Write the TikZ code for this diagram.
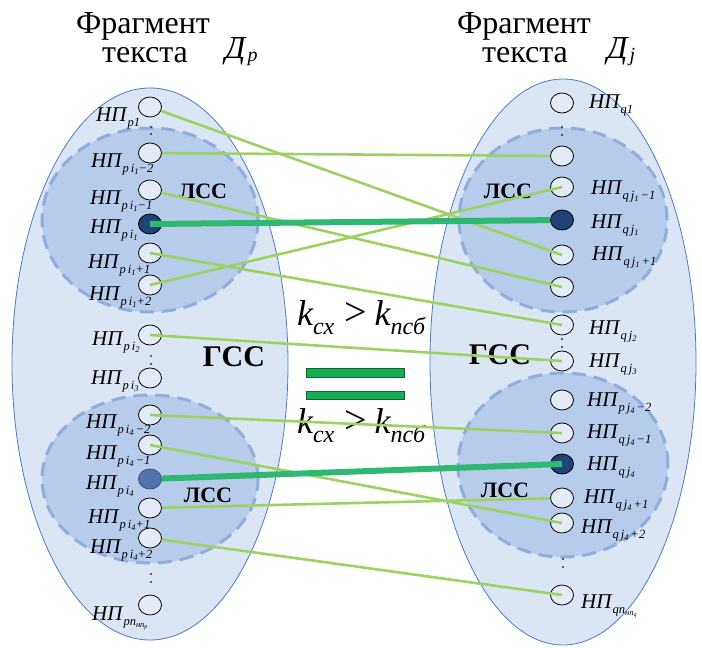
\documentclass[tikz,border=0pt]{standalone}
\usepackage{fontspec}
\setmainfont{Liberation Serif}
\usetikzlibrary{shapes.geometric}

\definecolor{bigfill}{HTML}{DCE5F3}
\definecolor{bigline}{HTML}{4A7CCB}
\definecolor{lssfill}{HTML}{B7CBEA}
\definecolor{lssline}{HTML}{8DAEDF}
\definecolor{nodefill}{HTML}{E4EBF6}
\definecolor{darknode}{HTML}{1F4279}
\definecolor{midnode}{HTML}{5374AB}
\definecolor{linkthin}{HTML}{9BD363}
\definecolor{linkthick}{HTML}{2FB872}
\definecolor{barfill}{HTML}{10B050}
\definecolor{barline}{HTML}{1E5A38}

% label "НП" with a lowered subscript
\newcommand\NP[1]{{\fontsize{21}{21}\selectfont\itshape НП}\hspace{1pt}\raisebox{-5pt}{\fontsize{12.5}{12.5}\selectfont\itshape #1}}
\newcommand\sbx[1]{\raisebox{-2pt}{\fontsize{8.5}{8.5}\selectfont #1}}
% k_сх > k_псб
\newcommand\kk{{\fontsize{36}{36}\selectfont\itshape k}\raisebox{-9pt}{\fontsize{24}{24}\selectfont\itshape сх}\hspace{10pt}{\fontsize{40}{40}\selectfont >}\hspace{8pt}{\fontsize{36}{36}\selectfont\itshape k}\raisebox{-9pt}{\fontsize{24}{24}\selectfont\itshape псб}}

\tikzset{
  text field/.style={draw=bigline, line width=0.8pt, fill=bigfill},
  lss/.style={draw=lssline, fill=lssfill, line width=3pt, dash pattern=on 14pt off 8pt},
  np/.style={ellipse, draw=black, line width=0.8pt, fill=nodefill, minimum width=23pt, minimum height=20pt, inner sep=0pt},
  npdark/.style={np, fill=darknode},
  npmid/.style={np, fill=midnode, draw=midnode!70!black},
  lab/.style={anchor=base west, inner sep=0pt},
  title/.style={anchor=base, inner sep=0pt, font=\fontsize{32}{32}\selectfont},
  lssname/.style={inner sep=0pt, font=\fontsize{22}{22}\selectfont\bfseries},
  gssname/.style={inner sep=0pt, font=\fontsize{30}{30}\selectfont\bfseries},
  thinlink/.style={draw=linkthin, line width=2.6pt},
  thicklink/.style={draw=linkthick, line width=6pt},
  vdot/.style={circle, fill=black!80, inner sep=0pt, minimum size=2.4pt},
  eqbar/.style={draw=barline, fill=barfill, line width=0.7pt}
}

\begin{document}
\begin{tikzpicture}[x=1pt, y=-1pt]
\useasboundingbox (0,0) rectangle (702,648);

% two text fragments
\draw[text field] (150,364) ellipse [x radius=138pt, y radius=276pt];
\draw[text field] (563,362) ellipse [x radius=133pt, y radius=283pt];

% local semantic structures
\draw[lss] (150,220) ellipse [x radius=108pt, y radius=92pt];
\draw[lss] (150,479) ellipse [x radius=108pt, y radius=84pt];
\draw[lss] (563,220) ellipse [x radius=104pt, y radius=92pt];
\draw[lss] (563,465) ellipse [x radius=105pt, y radius=92pt];

% headings
\node[title] (tl1) at (143,33) {Фрагмент};
\node[title] (tl2) at (145,62) {текста};
\node[title] (tr1) at (524,33) {Фрагмент};
\node[title] (tr2) at (525,62) {текста};
\node[anchor=base west, inner sep=0pt] (dp) at (225,58) {{\fontsize{32}{32}\selectfont\itshape Д}\hspace{2pt}\raisebox{-3pt}{\fontsize{20}{20}\selectfont\itshape p}};
\node[anchor=base west, inner sep=0pt] (dj) at (607,58) {{\fontsize{32}{32}\selectfont\itshape Д}\hspace{2pt}\raisebox{-3pt}{\fontsize{20}{20}\selectfont\itshape j}};

\node[lssname] (ls1) at (203,191) {ЛСС};
\node[lssname] (ls2) at (508,191) {ЛСС};
\node[lssname] (ls3) at (208,495) {ЛСС};
\node[lssname] (ls4) at (505,490) {ЛСС};
\node[gssname] (gs1) at (234,357) {ГСС};
\node[gssname] (gs2) at (500,355) {ГСС};

% left column
\node[np] (Lp1) at (150,107) {};
\node[np] (La) at (150,153) {};
\node[np] (Lb) at (150,190) {};
\node[npdark] (Lc) at (150,224) {};
\node[np] (Ld) at (150,253) {};
\node[np] (Le) at (150,285) {};
\node[np] (Lf) at (150,335) {};
\node[np] (Lg) at (150,378) {};
\node[np] (Lh) at (150,415) {};
\node[np] (Li) at (150,445) {};
\node[npmid] (Lj) at (150,479) {};
\node[np] (Lk) at (150,508) {};
\node[np] (Ll) at (150,538) {};
\node[np] (Lm) at (150,605) {};

% right column
\node[np] (Rq1) at (562,103) {};
\node[np] (Ra) at (562,156) {};
\node[np] (Rb) at (562,187) {};
\node[npdark] (Rc) at (562,220) {};
\node[np] (Rd) at (562,255) {};
\node[np] (Re) at (562,287) {};
\node[np] (Rf) at (562,325) {};
\node[np] (Rg) at (562,361) {};
\node[np] (Rh) at (562,400) {};
\node[np] (Ri) at (562,433) {};
\node[npdark] (Rj) at (562,464) {};
\node[np] (Rk) at (562,498) {};
\node[np] (Rl) at (562,523) {};
\node[np] (Rm) at (562,595) {};

% omitted items
\foreach \n/\x/\y in {d1/151/127, d2/151/134, d3/151/356, d4/151/364, d5/151/574, d6/151/582,
                      d7/562/127, d8/562/135, d9/562/339, d10/562/347, d11/563/559, d12/563/567}
  \node[vdot] (\n) at (\x,\y) {};

% left labels
\node[lab] (tLp1) at (96,121) {\NP{p1}};
\node[lab] (tLa) at (91,167) {\NP{p\,i\sbx{1}−2}};
\node[lab] (tLb) at (90,204) {\NP{p\,i\sbx{1}−1}};
\node[lab] (tLc) at (90,233) {\NP{p\,i\sbx{1}}};
\node[lab] (tLd) at (88,268) {\NP{p\,i\sbx{1}+1}};
\node[lab] (tLe) at (89,300) {\NP{p\,i\sbx{1}+2}};
\node[lab] (tLf) at (92,345) {\NP{p\,i\sbx{2}}};
\node[lab] (tLg) at (91,384) {\NP{p\,i\sbx{3}}};
\node[lab] (tLh) at (86,428) {\NP{p\,i\sbx{4}\,−2}};
\node[lab] (tLi) at (86,459) {\NP{p\,i\sbx{4}\,−1}};
\node[lab] (tLj) at (86,489) {\NP{p\,i\sbx{4}}};
\node[lab] (tLk) at (88,523) {\NP{p\,i\sbx{4}+1}};
\node[lab] (tLl) at (90,553) {\NP{p\,i\sbx{4}+2}};
\node[lab] (tLm) at (92,620) {\NP{pn\sbx{нп\raisebox{-1.5pt}{\fontsize{6}{6}\selectfont p}}}};

% right labels
\node[lab] (tRq1) at (589,108) {\NP{q1}};
\node[lab] (tRb) at (591,194) {\NP{q\,j\sbx{1}\,−1}};
\node[lab] (tRc) at (591,228) {\NP{q\,j\sbx{1}}};
\node[lab] (tRd) at (592,260) {\NP{q\,j\sbx{1}\,+1}};
\node[lab] (tRf) at (589,334) {\NP{q\,j\sbx{2}}};
\node[lab] (tRg) at (589,367) {\NP{q\,j\sbx{3}}};
\node[lab] (tRh) at (587,406) {\NP{p\,j\sbx{4}\,−2}};
\node[lab] (tRi) at (587,438) {\NP{q\,j\sbx{4}\,−1}};
\node[lab] (tRj) at (587,470) {\NP{q\,j\sbx{4}}};
\node[lab] (tRk) at (584,503) {\NP{q\,j\sbx{4}\,+1}};
\node[lab] (tRl) at (581,533) {\NP{q\,j\sbx{4}\,+2}};
\node[lab] (tRm) at (581,608) {\NP{qn\sbx{нп\raisebox{-1.5pt}{\fontsize{6}{6}\selectfont q}}}};

% similarity conditions
\node[anchor=base west, inner sep=0pt] (k1) at (297,325) {\kk};
\node[anchor=base west, inner sep=0pt] (k2) at (297,433) {\kk};
\draw[eqbar] (306,368) rectangle (404,377);
\draw[eqbar] (306,391) rectangle (404,399);

% links between noun phrases
\draw[thinlink] (Lp1) -- (Rd.center);
\draw[thinlink] (La) -- (Ra);
\draw[thinlink] (Lb) -- (Re.center);
\draw[thinlink] (Ld.center) -- (Rf.center);
\draw[thinlink] (Le.center) -- (Rb.center);
\draw[thinlink] (Lf.center) -- (Rg.center);
\draw[thinlink] (Lh.center) -- (Ri.center);
\draw[thinlink] (Li.center) -- (Rl.center);
\draw[thinlink] (Lk) -- (Rk);
\draw[thinlink] (Ll) -- (Rm.center);
\draw[thicklink] (Lc.center) -- (Rc);
\draw[thicklink] (Lj) -- (Rj.center);
\end{tikzpicture}
\end{document}
